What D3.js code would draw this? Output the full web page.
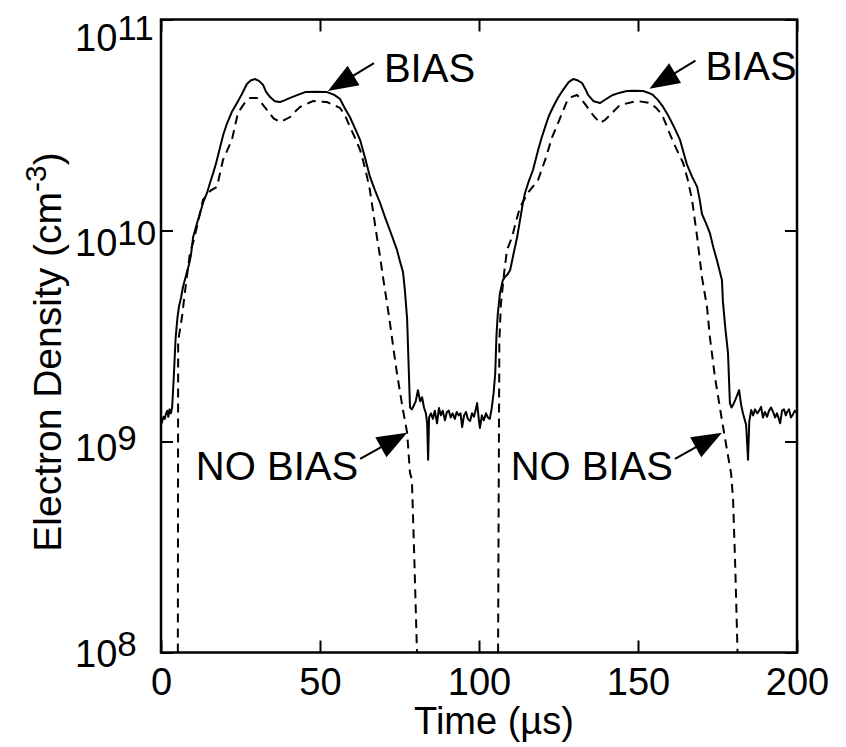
<!DOCTYPE html>
<html>
<head>
<meta charset="utf-8">
<script src="https://cdn.jsdelivr.net/npm/d3@7"></script>
<style>
  body { margin: 0; background: #fff; }
  text { font-family: "Liberation Sans", Arial, sans-serif; fill: #000; }
</style>
</head>
<body>
<div id="chart"></div>
<script>
// axis ticks
var timeTicks = [0, 50, 100, 150, 200];
var densityTicks = [1e8, 1e9, 1e10, 1e11];
var densityExponents = ["8", "9", "10", "11"];

// solid curve (with bias), time in us, density in cm^-3
var biasTime = [0, 0.4, 0.8, 1.2, 1.6, 2.0, 2.3, 2.7, 3.1, 3.5, 4.0, 4.6, 5.2, 5.7, 6.3, 6.9, 7.6, 8.2, 8.8, 9.4,
  10.1, 10.7, 11.3, 12.3, 13.2, 14.5, 15.4, 16.4, 17.3, 18.6, 19.6, 20.8, 22.3, 23.9, 25.5, 27.0, 28.3, 29.6, 30.8, 32.1,
  33.0, 34.3, 35.8, 37.4, 39.0, 40.6, 43.0, 45.3, 48.5, 52.2, 54.5, 56.3, 57.8, 59.4, 61.0, 62.6, 64.2, 65.7, 67.3, 68.9,
  70.5, 72.0, 73.1, 74.2, 75.2, 76.1, 76.7, 77.4, 78.0, 78.3, 78.9, 79.3, 80.1, 80.8, 81.5, 82.1, 82.7, 83.3, 83.7, 84.0,
  84.3, 84.9, 85.5, 86.1, 86.8, 87.4, 88.0, 88.6, 89.3, 89.9, 90.5, 91.1, 91.7, 92.4, 93.0, 93.6, 94.2, 94.7, 95.3, 95.9,
  96.5, 97.2, 97.8, 98.4, 99.0, 99.4, 100.0, 100.3, 100.9, 101.5, 102.2, 102.8, 103.4, 104.0, 104.6, 105.1, 105.5, 105.9, 106.6, 107.5,
  108.2, 109.0, 109.8, 110.9, 112.0, 112.9, 113.8, 114.5, 115.7, 117.0, 118.6, 119.7, 120.8, 122.0, 123.3, 124.8, 126.4, 128.2, 129.6, 131.0,
  132.4, 133.4, 134.3, 136.0, 138.1, 140.0, 142.1, 144.3, 146.5, 149.0, 151.6, 153.2, 154.7, 156.3, 157.9, 159.3, 160.7, 162.0, 163.2, 164.3,
  165.4, 167.0, 168.6, 169.4, 170.1, 171.4, 172.6, 173.7, 174.8, 175.6, 176.4, 176.7, 177.5, 178.3, 178.9, 179.4, 179.9, 180.8, 181.8, 182.4,
  183.0, 183.6, 184.0, 184.6, 185.0, 185.6, 186.2, 186.8, 187.5, 188.1, 188.7, 189.3, 189.9, 190.6, 191.2, 191.8, 192.5, 193.1, 193.7, 194.3,
  194.7, 195.3, 195.9, 196.5, 196.9, 197.5, 198.1, 198.7, 199.3, 200];
var biasDensity = [1.20e9, 1.25e9, 1.31e9, 1.28e9, 1.36e9, 1.40e9, 1.31e9, 1.42e9, 1.36e9, 1.45e9, 2.0e9, 3.1e9, 3.9e9, 4.4e9, 4.8e9, 5.4e9, 5.9e9, 6.4e9, 6.9e9, 7.6e9,
  9.3e9, 1.0e10, 1.08e10, 1.21e10, 1.35e10, 1.51e10, 1.68e10, 1.87e10, 2.08e10, 2.49e10, 2.85e10, 3.23e10, 3.65e10, 4.02e10, 4.45e10, 4.95e10, 5.15e10, 5.22e10, 5.12e10, 4.9e10,
  4.55e10, 4.29e10, 4.10e10, 4.06e10, 4.15e10, 4.25e10, 4.39e10, 4.53e10, 4.55e10, 4.53e10, 4.39e10, 4.2e10, 3.8e10, 3.45e10, 3.05e10, 2.69e10, 2.2e10, 1.80e10, 1.55e10, 1.35e10,
  1.15e10, 1.0e10, 9.0e9, 8.09e9, 7.1e9, 6.36e9, 5.2e9, 3.8e9, 2.0e9, 1.45e9, 1.42e9, 1.46e9, 1.55e9, 1.75e9, 1.55e9, 1.62e9, 1.45e9, 1.36e9, 1.22e9, 8.2e8,
  1.30e9, 1.36e9, 1.28e9, 1.40e9, 1.22e9, 1.44e9, 1.33e9, 1.40e9, 1.26e9, 1.38e9, 1.40e9, 1.30e9, 1.36e9, 1.28e9, 1.38e9, 1.33e9, 1.36e9, 1.17e9, 1.33e9, 1.38e9,
  1.28e9, 1.25e9, 1.36e9, 1.31e9, 1.42e9, 1.52e9, 1.25e9, 1.16e9, 1.33e9, 1.26e9, 1.36e9, 1.30e9, 1.28e9, 1.44e9, 1.7e9, 2.1e9, 3.2e9, 4.0e9, 5.06e9, 5.82e9,
  6.03e9, 6.2e9, 6.5e9, 7.8e9, 9.31e9, 1.12e10, 1.35e10, 1.51e10, 1.72e10, 1.94e10, 2.41e10, 2.75e10, 3.10e10, 3.5e10, 3.85e10, 4.25e10, 4.63e10, 5.05e10, 5.22e10, 5.15e10,
  5.0e10, 4.7e10, 4.39e10, 4.1e10, 4.02e10, 4.2e10, 4.39e10, 4.5e10, 4.58e10, 4.6e10, 4.58e10, 4.5e10, 4.39e10, 4.15e10, 3.85e10, 3.55e10, 3.23e10, 2.95e10, 2.69e10, 2.35e10,
  2.05e10, 1.8e10, 1.61e10, 1.4e10, 1.20e10, 1.08e10, 9.73e9, 8.3e9, 7.25e9, 6.5e9, 5.82e9, 4.6e9, 3.4e9, 2.63e9, 1.52e9, 1.45e9, 1.49e9, 1.6e9, 1.75e9, 1.5e9,
  1.36e9, 1.26e9, 1.2e9, 8.2e8, 1.25e9, 1.41e9, 1.33e9, 1.42e9, 1.36e9, 1.40e9, 1.46e9, 1.30e9, 1.38e9, 1.31e9, 1.40e9, 1.45e9, 1.38e9, 1.30e9, 1.36e9, 1.28e9,
  1.22e9, 1.40e9, 1.42e9, 1.33e9, 1.38e9, 1.42e9, 1.30e9, 1.34e9, 1.40e9, 1.36e9];

// dashed curve (no bias); null splits the two pulses
var noBiasTime = [5.3, 5.4, 6.6, 7.6, 9.1, 10.3, 11.3, 13.2, 15.7, 17.6, 19.5, 22.3, 24.2, 26.2, 28.0, 30.2, 31.7, 33.3, 35.4, 37.4,
  39.0, 40.6, 42.1, 43.7, 47.8, 52.2, 56.3, 57.9, 59.4, 61.0, 62.6, 63.5, 64.6, 65.7, 66.8, 67.9, 68.9, 69.8, 70.9, 72.0,
  73.1, 74.2, 75.2, 76.1, 77.4, 78.3, 78.9, 79.6, 80.5, 93,
  106.0, 106.2, 106.4, 106.9, 107.9, 108.8, 110.4, 111.6, 112.9, 115.4, 118.6, 120.8, 123.0, 125.5, 127.7, 129.2, 130.8, 132.4, 134.0, 136.0,
  138.1, 139.7, 141.2, 144.3, 149.7, 153.8, 155.8, 157.6, 160.1, 162.0, 164.2, 165.6, 167.0, 168.6, 170.1, 171.7, 172.6, 174.2, 176.4, 178.0,
  179.3, 179.9, 180.6, 181.3];
var noBiasDensity = [1e8, 3.0e9, 3.89e9, 5.22e9, 7.82e9, 9.0e9, 1.04e10, 1.40e10, 1.55e10, 1.61e10, 2.16e10, 2.69e10, 3.61e10, 4.0e10, 4.25e10, 4.25e10, 4.0e10, 3.73e10, 3.4e10, 3.27e10,
  3.35e10, 3.45e10, 3.65e10, 3.85e10, 4.11e10, 4.06e10, 3.81e10, 3.5e10, 3.10e10, 2.75e10, 2.41e10, 2.16e10, 1.85e10, 1.55e10, 1.2e10, 9.31e9, 7.5e9, 6.03e9, 4.7e9, 3.65e9,
  2.75e9, 2.11e9, 1.7e9, 1.41e9, 1.10e9, 7.1e8, 6.6e8, 3.0e8, 1e8, null,
  1e8, 6e8, 3.0e9, 4.5e9, 6.29e9, 8.09e9, 9.31e9, 1.1e10, 1.29e10, 1.51e10, 1.74e10, 2.16e10, 2.77e10, 3.41e10, 4.11e10, 4.3e10, 4.39e10, 4.15e10, 3.85e10, 3.5e10,
  3.23e10, 3.35e10, 3.53e10, 3.93e10, 4.11e10, 4.02e10, 3.8e10, 3.53e10, 2.85e10, 2.45e10, 2.09e10, 1.75e10, 1.40e10, 9.31e9, 6.03e9, 4.34e9, 3.13e9, 2.02e9, 1.26e9, 9.1e8,
  7.0e8, 5.3e8, 2.5e8, 1e8];

// annotations: label and the point its arrow touches
var noteLabels = ["BIAS", "BIAS", "NO BIAS", "NO BIAS"];
var noteTime = [52.5, 153.6, 77.4, 176.4];
var noteDensity = [4.58e10, 4.7e10, 1.1e9, 1.1e9];

var width = 846, height = 747;
var margin = { top: 19.5, right: 49, bottom: 94.5, left: 161 },
  w = width - margin.left - margin.right,
  h = height - margin.top - margin.bottom;

var svg = d3.select("#chart").append("svg")
  .attr("width", width)
  .attr("height", height);

var g = svg.append("g")
  .attr("transform", "translate(" + margin.left + "," + margin.top + ")");

var x = d3.scaleLinear().domain([0, 200]).range([0, w]);
var y = d3.scaleLog().domain([1e8, 1e11]).range([h, 0]);

g.append("clipPath").attr("id", "plotclip")
  .append("rect").attr("width", w).attr("height", h);

// curves
var line = d3.line()
  .defined(function (d) { return d[1] != null; })
  .x(function (d) { return x(d[0]); })
  .y(function (d) { return y(d[1]); });

var noBias = noBiasTime.map(function (t, i) { return [t, noBiasDensity[i]]; });
var bias = biasTime.map(function (t, i) { return [t, biasDensity[i]]; });

g.append("path")
  .datum(noBias)
  .attr("clip-path", "url(#plotclip)")
  .attr("fill", "none")
  .attr("stroke", "#000")
  .attr("stroke-width", 2)
  .attr("stroke-dasharray", "9,6")
  .attr("d", line);

g.append("path")
  .datum(bias)
  .attr("clip-path", "url(#plotclip)")
  .attr("fill", "none")
  .attr("stroke", "#000")
  .attr("stroke-width", 2)
  .attr("stroke-linejoin", "round")
  .attr("d", line);

// inward ticks on all four sides
g.append("g")
  .attr("transform", "translate(0," + h + ")")
  .call(d3.axisBottom(x).tickValues(timeTicks).tickSize(-12).tickPadding(16).tickFormat(d3.format("d")))
  .call(function (a) {
    a.select(".domain").remove();
    a.selectAll("line").attr("stroke-width", 2);
    a.selectAll("text").style("font-size", "38px").attr("font-family", null);
  });
g.append("g")
  .call(d3.axisTop(x).tickValues(timeTicks).tickSize(-12).tickFormat(""))
  .call(function (a) { a.select(".domain").remove(); a.selectAll("line").attr("stroke-width", 2); });
g.append("g")
  .call(d3.axisLeft(y).tickValues(densityTicks).tickSize(-12).tickFormat(""))
  .call(function (a) { a.select(".domain").remove(); a.selectAll("line").attr("stroke-width", 2); });
g.append("g")
  .attr("transform", "translate(" + w + ",0)")
  .call(d3.axisRight(y).tickValues(densityTicks).tickSize(-12).tickFormat(""))
  .call(function (a) { a.select(".domain").remove(); a.selectAll("line").attr("stroke-width", 2); });

// frame
g.append("rect")
  .attr("width", w).attr("height", h)
  .attr("fill", "none")
  .attr("stroke", "#000")
  .attr("stroke-width", 2.5);

// y tick labels 10^n (they sit slightly lower than the ticks near the top)
var yLabel = d3.scaleLog().domain([1e8, 1e11]).range([h + 14, 31]);
var ylab = g.selectAll(".ylab")
  .data(densityTicks)
  .enter().append("text")
  .attr("class", "ylab")
  .attr("x", -86)
  .attr("y", function (d) { return yLabel(d); })
  .style("font-size", "38px");
ylab.append("tspan").text("10");
ylab.append("tspan")
  .attr("dy", -11)
  .style("font-size", "35px")
  .text(function (d, i) { return densityExponents[i]; });

// axis titles
g.append("text")
  .attr("x", x(100) + 15)
  .attr("y", h + 81)
  .attr("text-anchor", "middle")
  .style("font-size", "38px")
  .text("Time (\u00b5s)");

var yt = svg.append("text")
  .attr("transform", "translate(61," + 352 + ") rotate(-90)")
  .attr("text-anchor", "middle")
  .style("font-size", "39px");
yt.append("tspan").text("Electron Density (cm");
yt.append("tspan").attr("dy", -15).style("font-size", "30px").text("-3");
yt.append("tspan").attr("dy", 15).text(")");

// arrows with labels
noteLabels.forEach(function (label, i) {
  var tx = x(noteTime[i]), ty = y(noteDensity[i]);
  var up = label === "BIAS";
  var tailX = tx + (up ? 46 : -47), tailY = ty + (up ? -28 : 26);
  var dx = tailX - tx, dy = tailY - ty, len = Math.sqrt(dx * dx + dy * dy);
  var ux = dx / len, uy = dy / len, nx = -uy, ny = ux;
  var headL = 30, headW = 23;
  g.append("path")
    .attr("d", "M" + tx + "," + ty +
      "L" + (tx + ux * headL + nx * headW / 2) + "," + (ty + uy * headL + ny * headW / 2) +
      "L" + (tx + ux * headL - nx * headW / 2) + "," + (ty + uy * headL - ny * headW / 2) + "Z")
    .attr("fill", "#000");
  g.append("line")
    .attr("x1", tx + ux * headL * 0.8).attr("y1", ty + uy * headL * 0.8)
    .attr("x2", tailX).attr("y2", tailY)
    .attr("stroke", "#000").attr("stroke-width", 2);
  g.append("text")
    .attr("x", up ? tx + 56 : tx - 49)
    .attr("y", up ? ty - 9 : ty + 47)
    .attr("text-anchor", up ? "start" : "end")
    .style("font-size", "40px")
    .text(label);
});
</script>
</body>
</html>
